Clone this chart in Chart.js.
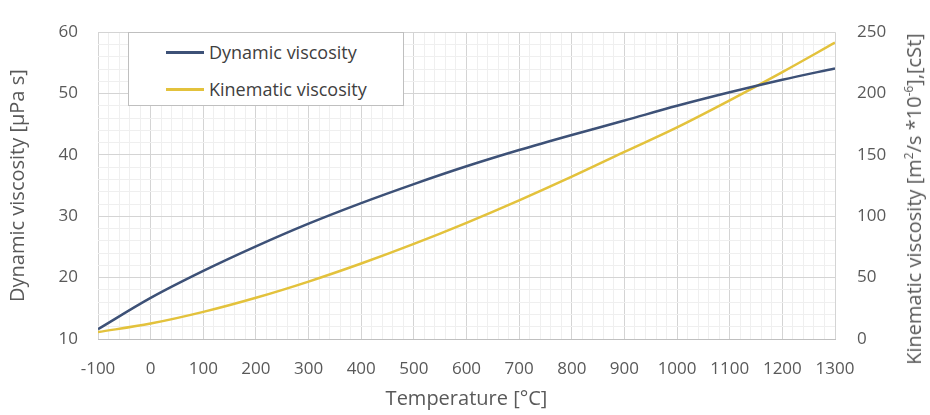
<!DOCTYPE html>
<html>
<head>
<meta charset="utf-8">
<script src="https://cdn.jsdelivr.net/npm/chart.js@4"></script>
<style>
    html, body { margin: 0; padding: 0; background: #fff; }
    #wrap { position: relative; width: 930px; height: 415px; font-family: "Open Sans", sans-serif; }
    #legend {
        position: absolute; left: 128px; top: 32px; width: 276px; height: 74px;
        border: 1px solid #bfbfbf; background: #fff; box-sizing: border-box;
        font-size: 18px; color: #404040;
    }
    .item { position: absolute; left: 37px; display: flex; align-items: center; height: 20px; white-space: nowrap; }
    .swatch { width: 38px; height: 3px; margin-right: 5px; }
    #y2title {
        position: absolute; left: 914px; top: 199px; white-space: nowrap;
        font-size: 20px; color: #595959; line-height: 1;
        transform: translate(-50%, -50%) rotate(-90deg);
    }
    #y2title sup { font-size: 12px; vertical-align: 8px; line-height: 0; }
</style>
</head>
<body>
<div id="wrap">
    <canvas id="chart" width="930" height="415"></canvas>
    <div id="legend"></div>
    <div id="y2title">Kinematic viscosity [m<sup>2</sup>/s *10<sup>-6</sup>],[cSt]</div>
</div>
<script>
// temperature [°C]
const temperatures = [-100, 0, 100, 200, 300, 400, 500, 600, 700, 800, 900, 1000, 1100, 1200, 1300];
// dynamic viscosity [µPa s]
const dynamicVisc = [11.6, 16.7, 21.1, 25.1, 28.8, 32.15, 35.25, 38.15, 40.8, 43.25, 45.6, 48.0, 50.2, 52.25, 54.1];
// kinematic viscosity [cSt]
const kinematicVisc = [5.6, 12.6, 22.1, 33.6, 46.8, 61.5, 77.5, 94.7, 113.0, 132.3, 152.5, 172.5, 194.5, 217.5, 241.5];

const xTicks = [-100, 1300, 100];
const yLeftTicks = [10, 60, 10];
const yRightTicks = [0, 250, 50];

const grey = '#595959';
const majorGrid = '#d4d4d4';
const minorGrid = '#efefef';
const font = { family: '"Open Sans", sans-serif', size: 17 };
const titleFont = { family: '"Open Sans", sans-serif', size: 20 };

const toPoints = ys => temperatures.map((t, i) => ({ x: t, y: ys[i] }));

const gridColor = step => ctx => (ctx.tick && Math.abs(ctx.tick.value % step) < 1e-6) ? majorGrid : minorGrid;
const majorLabel = step => v => (Math.abs(v % step) < 1e-6 ? v : '');

const chart = new Chart(document.getElementById('chart').getContext('2d'), {
    type: 'line',
    data: {
        datasets: [
            { label: 'Dynamic viscosity', data: toPoints(dynamicVisc), yAxisID: 'y',
              borderColor: '#3d5177', borderWidth: 2.5, pointRadius: 0, cubicInterpolationMode: 'monotone' },
            { label: 'Kinematic viscosity', data: toPoints(kinematicVisc), yAxisID: 'y2',
              borderColor: '#e3c23c', borderWidth: 2.5, pointRadius: 0, cubicInterpolationMode: 'monotone' }
        ]
    },
    options: {
        responsive: false, animation: false,
        layout: { padding: { top: 20 } },
        plugins: { legend: { display: false }, tooltip: { enabled: false } },
        scales: {
            x: {
                type: 'linear', min: xTicks[0], max: xTicks[1],
                afterFit: s => { s.height = 76; },
                ticks: { stepSize: 20, autoSkip: false, maxRotation: 0, padding: 20, color: grey, font, callback: majorLabel(xTicks[2]) },
                grid: { color: gridColor(xTicks[2]), drawTicks: false, lineWidth: 1 },
                border: { color: '#bfbfbf' },
                title: { display: true, text: 'Temperature [°C]', color: grey, font: titleFont, padding: { top: 4, bottom: 4 } }
            },
            y: {
                position: 'left', min: yLeftTicks[0], max: yLeftTicks[1],
                afterFit: s => { s.width = 98; },
                ticks: { stepSize: 2, autoSkip: false, padding: 20, color: grey, font, callback: majorLabel(yLeftTicks[2]) },
                grid: { color: gridColor(yLeftTicks[2]), drawTicks: false },
                border: { display: false },
                title: { display: true, text: 'Dynamic viscosity [µPa s]', color: grey, font: titleFont, padding: { top: 6, bottom: 4 } }
            },
            y2: {
                position: 'right', min: yRightTicks[0], max: yRightTicks[1],
                afterFit: s => { s.width = 95; },
                ticks: { stepSize: 10, autoSkip: false, padding: 22, color: grey, font, callback: majorLabel(yRightTicks[2]) },
                grid: { drawOnChartArea: false, drawTicks: false },
                border: { display: false }
            }
        }
    }
});

document.getElementById('legend').innerHTML = chart.data.datasets.map((ds, i) =>
    `<div class="item" style="top:${9 + i * 37}px"><span class="swatch" style="background:${ds.borderColor}"></span>${ds.label}</div>`
).join('');
</script>
</body>
</html>
